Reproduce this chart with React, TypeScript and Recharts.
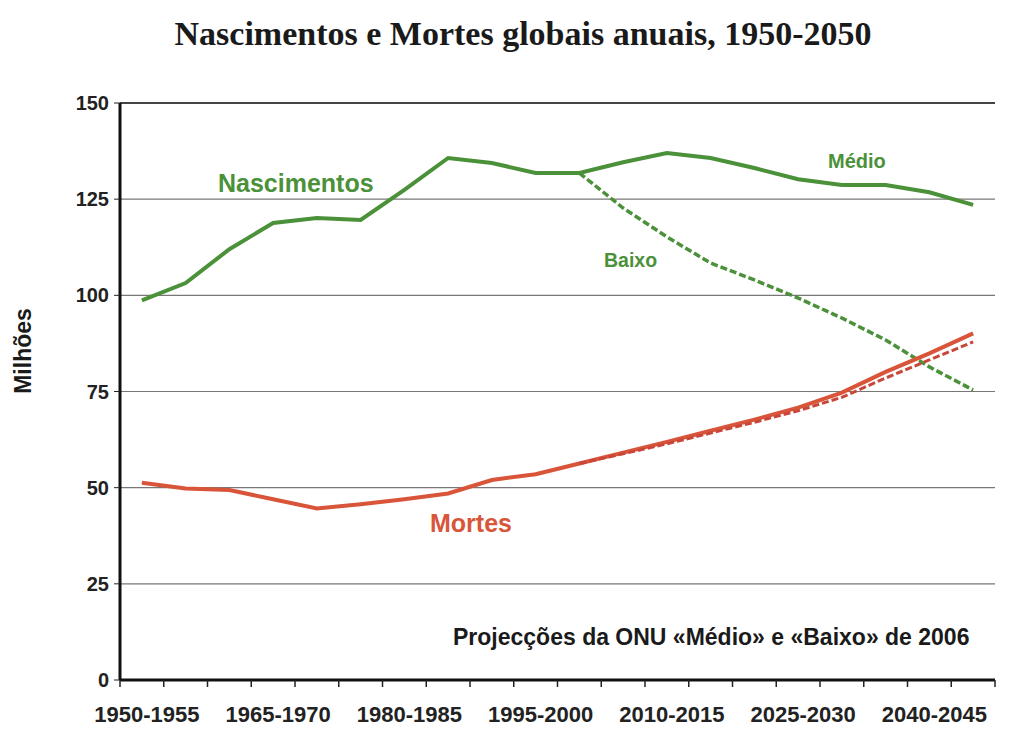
import { LineChart, Line, XAxis, YAxis, CartesianGrid, ReferenceLine } from "recharts"

const periods = [
  "1950-1955", "1955-1960", "1960-1965", "1965-1970", "1970-1975",
  "1975-1980", "1980-1985", "1985-1990", "1990-1995", "1995-2000",
  "2000-2005", "2005-2010", "2010-2015", "2015-2020", "2020-2025",
  "2025-2030", "2030-2035", "2035-2040", "2040-2045", "2045-2050",
]
// nascimentos (milhões), variante média e baixa da ONU 2006
const birthsMedium = [98.7, 103.2, 112, 118.8, 120.1, 119.6, 127.4, 135.7, 134.4, 131.8, 131.8, 134.6, 137, 135.7, 133.1, 130.2, 128.7, 128.7, 126.8, 123.5]
const birthsLow = [null, null, null, null, null, null, null, null, null, null, 131.8, 122.7, 115.2, 108.4, 104, 99.3, 94.1, 88.4, 81.4, 75.4]
// mortes (milhões)
const deathsMedium = [51.3, 49.8, 49.4, 47, 44.6, 45.7, 47, 48.5, 52, 53.5, 56.3, 59.1, 61.9, 64.8, 67.7, 70.8, 74.7, 80.1, 84.9, 90.1]
const deathsLow = [null, null, null, null, null, null, null, null, null, null, 56.3, 58.8, 61.4, 64.2, 67, 70, 73.5, 78.5, 83.2, 87.9]
const yTicks = [0, 25, 50, 75, 100, 125, 150]
const labelEvery = 3

const data = periods.map((p, i) => ({
  period: p,
  birthsMedium: birthsMedium[i],
  birthsLow: birthsLow[i],
  deathsMedium: deathsMedium[i],
  deathsLow: deathsLow[i],
}))

const W = 1022, H = 744
const M = { top: 103, right: 27, left: 60, bottom: 14 }
const Y_W = 60
const bandW = (W - M.left - M.right - Y_W) / periods.length

const GREEN = "#4b9139"
const RED = "#d9553a"
const sans = "'Liberation Sans', Arial, sans-serif"

function PeriodTick(props: any) {
  const { x, y, payload } = props
  const i = periods.indexOf(payload.value)
  return (
    <g>
      <line x1={x - bandW / 2} x2={x - bandW / 2} y1={y} y2={y + 7} stroke="#222" strokeWidth={1.5} />
      {i === periods.length - 1 && <line x1={x + bandW / 2} x2={x + bandW / 2} y1={y} y2={y + 7} stroke="#222" strokeWidth={1.5} />}
      {i % labelEvery === 0 && (
        <text x={x + 5} y={y + 42} textAnchor="middle" fontSize={22} fontWeight="bold" fill="#222" fontFamily={sans}>
          {payload.value}
        </text>
      )}
    </g>
  )
}

const note = (extra: React.CSSProperties): React.CSSProperties => ({
  position: "absolute", fontFamily: sans, fontWeight: "bold", whiteSpace: "nowrap", lineHeight: 1, ...extra,
})

export default function App() {
  return (
    <div style={{ position: "absolute", left: 0, top: 0, width: W, height: H, background: "#fff" }}>
      <div style={{ position: "absolute", left: 0, width: W, top: 15, textAlign: "center", fontFamily: "'Liberation Serif', 'Times New Roman', serif", fontWeight: "bold", fontSize: 34, color: "#1a1a1a", paddingLeft: 12 }}>
        Nascimentos e Mortes globais anuais, 1950-2050
      </div>
      <LineChart width={W} height={H} data={data} margin={M}>
        <CartesianGrid vertical={false} stroke="#777" strokeWidth={1.2} />
        <ReferenceLine y={150} stroke="#444" strokeWidth={2} />
        <XAxis dataKey="period" scale="band" interval={0} tick={<PeriodTick />} tickLine={false} tickSize={0} tickMargin={0}
          axisLine={{ stroke: "#111", strokeWidth: 3 }} height={50} />
        <YAxis domain={[0, 150]} ticks={yTicks} width={Y_W} tickSize={6} tickMargin={5}
          tick={{ fontSize: 20, fontWeight: "bold", fill: "#222", fontFamily: sans }}
          tickLine={{ stroke: "#222" }} axisLine={{ stroke: "#111", strokeWidth: 3 }} />
        <YAxis yAxisId="frame" orientation="right" width={0} tick={false} tickLine={false} axisLine={{ stroke: "#666", strokeWidth: 1.5 }} />
        <Line dataKey="birthsMedium" stroke={GREEN} strokeWidth={4} dot={false} isAnimationActive={false} />
        <Line dataKey="birthsLow" stroke={GREEN} strokeWidth={3.5} strokeDasharray="7 3" dot={false} isAnimationActive={false} />
        <Line dataKey="deathsMedium" stroke={RED} strokeWidth={4} dot={false} isAnimationActive={false} />
        <Line dataKey="deathsLow" stroke="#c8473a" strokeWidth={3} strokeDasharray="7 3" dot={false} isAnimationActive={false} />
      </LineChart>
      <div style={note({ left: 218, top: 171, fontSize: 25, color: GREEN })}>Nascimentos</div>
      <div style={note({ left: 828, top: 151, fontSize: 20, color: GREEN })}>Médio</div>
      <div style={note({ left: 604, top: 251, fontSize: 19.5, color: GREEN })}>Baixo</div>
      <div style={note({ left: 430, top: 511, fontSize: 25, color: RED })}>Mortes</div>
      <div style={note({ left: 453, top: 626, fontSize: 23, color: "#1a1a1a" })}>Projecções da ONU «Médio» e «Baixo» de 2006</div>
      <div style={note({ left: 23, top: 351, fontSize: 23, color: "#1a1a1a", transform: "translate(-50%, -50%) rotate(-90deg)" })}>Milhões</div>
    </div>
  )
}
